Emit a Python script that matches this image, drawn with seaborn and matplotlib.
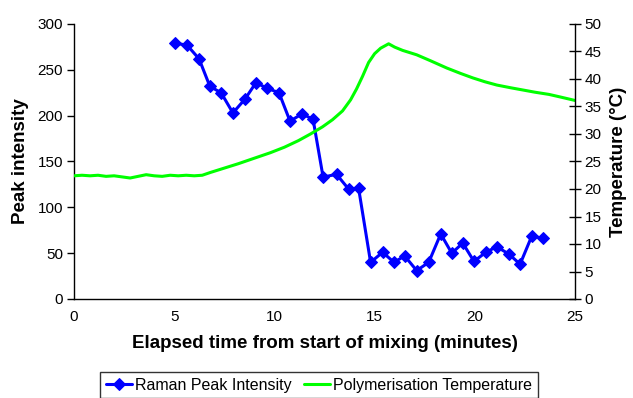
import matplotlib
matplotlib.use("Agg")
import matplotlib.pyplot as plt
import seaborn as sns
import pandas as pd

# Raman peak intensity (left axis)
raman_time = [5.04, 5.64, 6.24, 6.78, 7.34, 7.93, 8.53, 9.08, 9.63, 10.23, 10.78,
              11.38, 11.93, 12.43, 13.1, 13.7, 14.2, 14.8, 15.4, 15.97, 16.5, 17.1,
              17.7, 18.3, 18.85, 19.4, 19.96, 20.55, 21.1, 21.7, 22.26, 22.85, 23.4]
raman_peak = [279, 277, 262, 232, 225, 203, 218, 236, 230, 225, 194,
              202, 196, 133, 136, 120, 121, 40, 51, 40, 47, 31,
              40, 71, 50, 61, 41, 51, 57, 49, 38, 69, 66]

# Polymerisation temperature (right axis)
temp_time = [0.0, 0.4, 0.8, 1.2, 1.6, 2.0, 2.4, 2.8, 3.2, 3.6, 4.0, 4.4, 4.8, 5.2,
             5.6, 6.0, 6.4, 6.8, 7.5, 8.2, 9.0, 9.8, 10.5, 11.2, 11.8, 12.4, 12.9,
             13.4, 13.8, 14.1, 14.4, 14.7, 15.0, 15.3, 15.7, 16.0, 16.4, 17.1,
             17.8, 18.6, 19.3, 19.9, 20.5, 21.1, 21.8, 22.4, 23.0, 23.7, 24.3, 25.0]
temp_c = [22.4, 22.5, 22.4, 22.5, 22.3, 22.4, 22.2, 22.0, 22.3, 22.6, 22.4, 22.3, 22.5, 22.4,
          22.5, 22.4, 22.5, 23.0, 23.8, 24.6, 25.6, 26.6, 27.6, 28.8, 30.0, 31.3, 32.6,
          34.2, 36.2, 38.2, 40.5, 43.0, 44.6, 45.6, 46.4, 45.8, 45.2, 44.4,
          43.3, 42.0, 41.0, 40.2, 39.5, 38.9, 38.4, 38.0, 37.6, 37.2, 36.7, 36.1]

x_ticks = [0, 5, 10, 15, 20, 25]
left_ticks = [0, 50, 100, 150, 200, 250, 300]
right_ticks = [0, 5, 10, 15, 20, 25, 30, 35, 40, 45, 50]

sns.set_style("white")
plt.rcParams['font.family'] = ['Liberation Sans', 'DejaVu Sans']
plt.rcParams['text.color'] = 'black'
plt.rcParams['axes.labelcolor'] = 'black'
plt.rcParams['xtick.color'] = 'black'
plt.rcParams['ytick.color'] = 'black'

fig = plt.figure(figsize=(6.33, 3.98), dpi=100)
ax = fig.add_axes([74/633, 1 - 299/398, (575-74)/633, (299-24)/398])
ax2 = ax.twinx()

df_r = pd.DataFrame({"t": raman_time, "v": raman_peak})
df_t = pd.DataFrame({"t": temp_time, "v": temp_c})

sns.lineplot(data=df_r, x="t", y="v", ax=ax, color="#0000ff", marker="D",
             markersize=6.5, markeredgecolor="#0000ff", linewidth=2.2,
             label="Raman Peak Intensity", legend=False)
sns.lineplot(data=df_t, x="t", y="v", ax=ax2, color="#00ff00", linewidth=2.2,
             label="Polymerisation Temperature", legend=False)

ax.set_xlim(0, 25)
ax.set_ylim(0, 300)
ax2.set_ylim(0, 50)
ax.set_xticks(x_ticks)
ax.set_yticks(left_ticks)
ax2.set_yticks(right_ticks)

for a in (ax, ax2):
    a.spines['top'].set_visible(False)
    for s in a.spines.values():
        s.set_color("#000000")
        s.set_linewidth(1.0)
ax.spines['right'].set_visible(False)
ax2.spines['left'].set_visible(False)
ax2.spines['bottom'].set_visible(False)

ax.tick_params(axis='x', direction='out', length=4, width=1, labelsize=11, colors='black', pad=4)
ax.tick_params(axis='y', direction='out', length=5, width=1, labelsize=11, colors='black', pad=3)
ax2.tick_params(axis='y', direction='inout', length=8, width=1, labelsize=11, colors='black', pad=3)

ax.set_xlabel("Elapsed time from start of mixing (minutes)", fontsize=13.5,
              fontweight='bold', labelpad=8, color='black')
ax.set_ylabel("Peak intensity", fontsize=13.5, fontweight='bold', labelpad=6, color='black')
ax2.set_ylabel("Temperature (°C)", fontsize=13.5, fontweight='bold', labelpad=6, color='black')

h1, l1 = ax.get_legend_handles_labels()
h2, l2 = ax2.get_legend_handles_labels()
leg = fig.legend(h1 + h2, l1 + l2, loc='upper center', bbox_to_anchor=(0.504, 1 - 372/398),
                 ncol=2, frameon=True, fancybox=False, fontsize=11.5,
                 handlelength=1.6, handletextpad=0.2, columnspacing=0.8,
                 borderpad=0.35, borderaxespad=0.0)
leg.get_frame().set_edgecolor('black')
leg.get_frame().set_linewidth(1.0)

fig.savefig("out.png", dpi=100)
